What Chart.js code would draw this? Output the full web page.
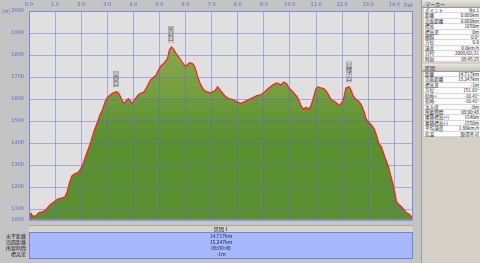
<!DOCTYPE html>
<html>
<head>
<meta charset="utf-8">
<script src="https://cdn.jsdelivr.net/npm/chart.js@4.4.1/dist/chart.umd.min.js"></script>
<style>
  body { margin: 0; width: 480px; height: 263px; overflow: hidden; background: #c4c4c4;
         font-family: "Noto Sans CJK JP", "DejaVu Sans", sans-serif; position: relative; }
  #wrap { position: absolute; left: 0; top: 0; width: 421px; height: 228px; }
  canvas { display: block; }
  .txt { position: absolute; font-size: 5px; line-height: 6px; white-space: nowrap; }
  #unit { left: 2px; top: 8px; color: #5a66d0; }
  #dist { left: 404px; top: 2px; color: #5a66d0; }
  #strip { position: absolute; left: 29px; top: 225px; width: 384px; height: 6px;
           background: #d8d4cc; border-top: 1px solid #a8a8a8; text-align: center;
           font-size: 5px; line-height: 6px; color: #222; }
  #sect { position: absolute; left: 29px; top: 232px; width: 382px; height: 25px;
          background: #a8b8fc; border: 1px solid #7482d8; text-align: center;
          font-size: 5px; line-height: 6px; color: #223; }
  #sectLbl { position: absolute; left: 0; top: 233px; width: 26px; text-align: right;
             font-size: 5px; line-height: 6px; color: #223; }
  #side { position: absolute; left: 421px; top: 0; width: 59px; height: 263px;
          background: #d4d0c8; border-left: 1px solid #a0a0a0; }
  .hdr { height: 7px; font-size: 5px; line-height: 7px; padding-left: 3px; color: #335;
         background: linear-gradient(#e8e6e0, #c4c0b8); border-bottom: 1px solid #999; }
  table { border-collapse: collapse; width: 56px; margin-left: 2px; background: #fbfbfb; }
  td { font-size: 4.6px; line-height: 4.4px; height: 4.4px; padding: 0 1px;
       border-bottom: 1px solid #d8d8d8; white-space: nowrap; color: #222; }
  td.v { text-align: right; }
</style>
</head>
<body>
<div id="wrap"><canvas id="profile" width="421" height="228"></canvas></div>
<div class="txt" id="unit">[m]</div>
<div class="txt" id="dist">Dist</div>
<div id="strip">区間 1</div>
<div id="sect"></div>
<div id="sectLbl"></div>
<div id="side"></div>
<script>
// track profile: distance (km) / elevation (m)
const distKm = [
  0.00, 0.04, 0.08, 0.15, 0.27, 0.38, 0.54, 0.65, 0.81, 0.96, 1.12, 1.27, 1.38, 1.46, 1.50,
  1.58, 1.65, 1.77, 1.88, 1.96, 2.04, 2.15, 2.27, 2.35, 2.50, 2.65, 2.73, 2.81, 2.92, 3.00,
  3.12, 3.23, 3.35, 3.42, 3.54, 3.62, 3.69, 3.81, 3.88, 3.96, 4.08, 4.19, 4.31, 4.38, 4.50,
  4.65, 4.77, 4.85, 4.96, 5.04, 5.19, 5.31, 5.38, 5.46, 5.54, 5.62, 5.73, 5.88, 6.00, 6.08,
  6.15, 6.27, 6.35, 6.46, 6.58, 6.69, 6.81, 6.96, 7.12, 7.23, 7.35, 7.50, 7.65, 7.81, 7.96,
  8.12, 8.27, 8.42, 8.58, 8.73, 8.88, 9.04, 9.19, 9.35, 9.50, 9.65, 9.77, 9.88, 9.96, 10.08,
  10.15, 10.27, 10.35, 10.42, 10.50, 10.62, 10.73, 10.81, 10.88, 11.00, 11.08, 11.19, 11.31, 11.38, 11.50,
  11.58, 11.77, 11.88, 11.96, 12.04, 12.15, 12.27, 12.35, 12.42, 12.54, 12.65, 12.73, 12.85, 12.92, 13.04,
  13.12, 13.23, 13.31, 13.42, 13.50, 13.65, 13.77, 13.88, 13.96, 14.04, 14.08, 14.19, 14.27, 14.38, 14.46,
  14.58, 14.65, 14.717
];
const elevM = [
  1052, 1075, 1080, 1066, 1070, 1084, 1088, 1097, 1119, 1133, 1146, 1150, 1155, 1177, 1195,
  1230, 1252, 1261, 1265, 1279, 1296, 1332, 1372, 1398, 1456, 1504, 1531, 1549, 1588, 1606,
  1619, 1628, 1633, 1628, 1602, 1580, 1588, 1602, 1593, 1580, 1602, 1619, 1628, 1628, 1650,
  1686, 1699, 1704, 1730, 1748, 1765, 1783, 1823, 1836, 1827, 1810, 1792, 1765, 1748, 1757,
  1765, 1761, 1748, 1704, 1664, 1642, 1633, 1628, 1637, 1655, 1637, 1615, 1602, 1597, 1588,
  1580, 1588, 1597, 1606, 1615, 1619, 1633, 1650, 1664, 1673, 1664, 1677, 1668, 1650, 1637,
  1628, 1611, 1593, 1571, 1553, 1562, 1553, 1571, 1597, 1646, 1655, 1650, 1646, 1637, 1615,
  1597, 1584, 1571, 1580, 1593, 1650, 1655, 1637, 1615, 1597, 1588, 1575, 1540, 1509, 1491,
  1482, 1465, 1438, 1394, 1385, 1332, 1296, 1243, 1208, 1164, 1133, 1119, 1110, 1097, 1084,
  1075, 1066, 1062
];

const xTicks = [0, 1, 2, 3, 4, 5, 6, 7, 8, 9, 10, 11, 12, 13, 14];
const yTicks = [1050, 1100, 1200, 1300, 1400, 1500, 1600, 1700, 1800, 1900, 2000];

// named points on the track
const markerKm   = [3.35, 5.46, 12.27];
const markerElev = [1633, 1836, 1655];
const markerName = ['高倉山', '黒岩山', '烏帽子山'];

// section summary (below the plot)
const sectLabels = ['水平距離', '沿面距離', '所要時間', '標高差'];
const sectValues = ['14.717km', '15.247km', '08:00:48', '-1m'];

// side panel
const markerRows = [
  ['ポイント', 'No.1'], ['距離', '0.000km'], ['沿面距離', '0.000km'], ['標高', '1050m'],
  ['標高差', '0m'], ['傾斜', '0.0°'], ['方位', '0.0'], ['速度', '0.0km/h'],
  ['日付', '2008/02/21'], ['時刻', '08:45:25']
];
const sectionRows = [
  ['距離', '14.717km'], ['沿面距離', '15.247km'], ['標高差', '-1m'], ['方位', '151.01°'],
  ['仰角+', '-10.41°'], ['仰角-', '-10.41°'], ['沈み度', '-0m'], ['所要時間', '08:00:48'],
  ['累積標高(+)', '1540m'], ['累積標高(-)', '-1550m'], ['平均速度', '1.80km/h'], ['気温', '取得不可']
];

function fillTable(rows) {
  return '<table>' + rows.map(r => `<tr><td>${r[0]}</td><td class="v">${r[1]}</td></tr>`).join('') + '</table>';
}
document.getElementById('side').innerHTML =
  '<div class="hdr">マーカー</div>' + fillTable(markerRows) +
  '<div class="hdr" style="margin-top:2px">区間</div>' + fillTable(sectionRows);
document.getElementById('sect').innerHTML = sectValues.join('<br>');
document.getElementById('sectLbl').innerHTML = sectLabels.join('<br>');

const plotBg = {
  id: 'plotBg',
  beforeDraw(chart) {
    const { ctx, chartArea: a } = chart;
    ctx.save();
    ctx.fillStyle = '#e0e0e0';
    ctx.fillRect(a.left, a.top, a.right - a.left, a.bottom - a.top);
    ctx.restore();
  },
  afterDraw(chart) {
    const { ctx, chartArea: a } = chart;
    ctx.save();
    ctx.strokeStyle = '#8088e0';
    ctx.lineWidth = 1;
    ctx.strokeRect(a.left + 0.5, a.top + 0.5, a.right - a.left - 1, a.bottom - a.top - 1);
    ctx.restore();
  }
};

const peakLabels = {
  id: 'peakLabels',
  afterDatasetsDraw(chart) {
    const { ctx, scales: { x, y } } = chart;
    ctx.save();
    ctx.font = '5px "Noto Sans CJK JP"';
    ctx.textAlign = 'center';
    ctx.textBaseline = 'middle';
    markerName.forEach((name, i) => {
      const px = Math.round(x.getPixelForValue(markerKm[i]));
      const py = y.getPixelForValue(markerElev[i]);
      const chars = [...name];
      const h = chars.length * 4.5 + 2;
      const top = py - 5 - h;
      ctx.fillStyle = '#f2f2f2';
      ctx.fillRect(px - 2.5, top, 5, h);
      ctx.strokeStyle = '#8a8a8a';
      ctx.lineWidth = 0.6;
      ctx.strokeRect(px - 2.5, top, 5, h);
      ctx.fillStyle = '#333';
      chars.forEach((c, k) => ctx.fillText(c, px, top + 3 + k * 4.5));
    });
    ctx.restore();
  }
};

function fillGradient(context) {
  const { chart } = context;
  const a = chart.chartArea;
  if (!a) return '#5a9030';
  const y = chart.scales.y;
  const g = chart.ctx.createLinearGradient(0, y.getPixelForValue(1850), 0, y.getPixelForValue(1400));
  g.addColorStop(0, '#8aa84a');
  g.addColorStop(0.45, '#76a040');
  g.addColorStop(0.75, '#629536');
  g.addColorStop(1, '#5a9030');
  return g;
}

const gridColor = 'rgba(96, 100, 210, 0.45)';

new Chart(document.getElementById('profile'), {
  type: 'line',
  data: {
    datasets: [{
      data: distKm.map((d, i) => ({ x: d, y: elevM[i] })),
      borderColor: '#ff2020',
      borderWidth: 1.3,
      backgroundColor: fillGradient,
      fill: 'start',
      pointRadius: 0,
      tension: 0,
    }]
  },
  options: {
    responsive: false,
    animation: false,
    events: [],
    layout: { padding: { right: 8, bottom: 4, top: 0, left: 0 } },
    plugins: { legend: { display: false }, tooltip: { enabled: false } },
    scales: {
      x: {
        type: 'linear',
        position: 'top',
        min: 0,
        max: 14.717,
        afterBuildTicks: s => { s.ticks = xTicks.map(v => ({ value: v })); },
        afterFit: s => { s.height = 11; },
        grid: { color: gridColor, z: 1, drawTicks: false },
        border: { display: false },
        ticks: {
          color: '#5a66d0',
          font: { size: 5, family: 'DejaVu Sans' },
          padding: 3,
          maxRotation: 0,
          callback: v => v.toFixed(1),
        }
      },
      y: {
        min: 1050,
        max: 2000,
        afterBuildTicks: s => { s.ticks = yTicks.map(v => ({ value: v })); },
        afterFit: s => { s.width = 29; },
        grid: { color: gridColor, z: 1, drawTicks: false },
        border: { display: false },
        ticks: {
          color: '#5a66d0',
          font: { size: 5, family: 'DejaVu Sans' },
          padding: 5,
          callback: v => String(v),
        }
      }
    }
  },
  plugins: [plotBg, peakLabels]
});
</script>
</body>
</html>
